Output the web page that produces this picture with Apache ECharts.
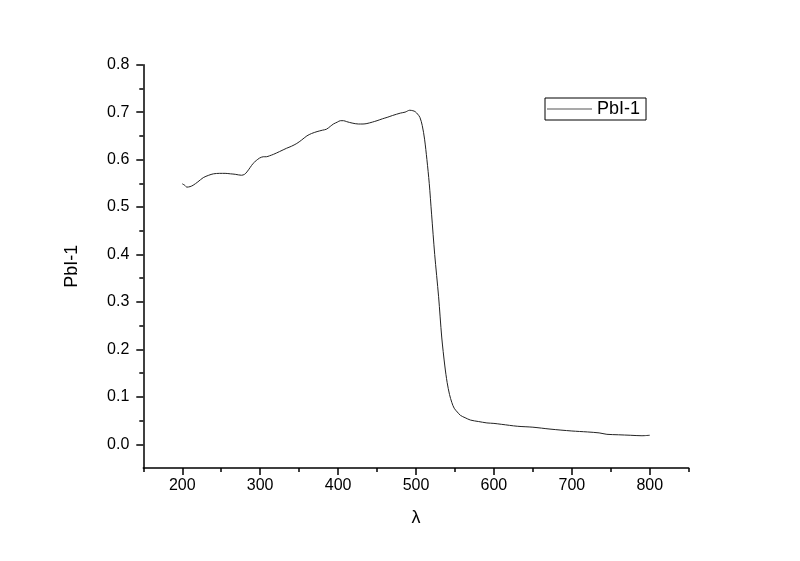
<!DOCTYPE html>
<html>
<head>
<meta charset="utf-8">
<script src="https://cdn.jsdelivr.net/npm/echarts@6/dist/echarts.min.js"></script>
<style>html,body{margin:0;padding:0;background:#fff;}#c{width:800px;height:561px;}</style>
</head>
<body>
<div id="c"></div>
<script>
const seriesName = 'PbI-1';
const wavelengths = [200,203,206,210,214,220,227,234,240,248,255,262,268,276,280,283,287,291,295,299,304,308,312,317,325,334,340,347,353,360,366,373,380,385,390,394,399,403,407,411,418,426,432,437,444,450,457,463,470,480,486,492,496,499,502,505,508,511,514,517,520,524,529,533,537,540,543,546,549,553,557,563,570,580,591,600,610,630,650,672,700,720,735,745,760,775,790,800];
const absorbance = [0.549,0.546,0.542,0.543,0.546,0.553,0.562,0.567,0.570,0.571,0.571,0.570,0.569,0.567,0.569,0.574,0.583,0.592,0.598,0.603,0.606,0.606,0.608,0.611,0.617,0.624,0.628,0.634,0.641,0.650,0.655,0.659,0.662,0.664,0.670,0.675,0.679,0.682,0.682,0.680,0.677,0.675,0.675,0.676,0.679,0.682,0.686,0.689,0.693,0.698,0.700,0.704,0.703,0.701,0.696,0.689,0.672,0.643,0.600,0.550,0.485,0.400,0.311,0.226,0.165,0.130,0.105,0.088,0.076,0.068,0.061,0.056,0.051,0.048,0.045,0.044,0.042,0.038,0.036,0.032,0.028,0.026,0.024,0.021,0.020,0.019,0.018,0.019];
const xMajorTicks = [200,300,400,500,600,700,800];
const yMajorTicks = [0,0.1,0.2,0.3,0.4,0.5,0.6,0.7,0.8];
const yMinorTicks = [0.05,0.15,0.25,0.35,0.45,0.55,0.65,0.75];

const FONT = "'Liberation Sans', Arial, sans-serif";
const chart = echarts.init(document.getElementById('c'), null, {renderer: 'canvas'});
const lineStyleAxis = {show: true, onZero: false, lineStyle: {color: '#000', width: 1.5}};
const option = {
  animation: false,
  backgroundColor: '#fff',
  grid: {left: 143.3, right: 111.3, top: 64.7, bottom: 93},
  legend: {
    show: true,
    left: 545, top: 98,
    padding: [2, 6, 2, 2],
    borderColor: '#000', borderWidth: 1,
    icon: 'rect', itemWidth: 45, itemHeight: 1,
    itemStyle: {color: '#555'},
    textStyle: {fontFamily: FONT, fontSize: 18, color: '#000'},
    data: [seriesName]
  },
  xAxis: [{
    type: 'value', min: 150, max: 850, interval: 50,
    name: 'λ', nameLocation: 'middle', nameGap: 41,
    nameTextStyle: {fontFamily: FONT, fontSize: 18, color: '#000'},
    axisLine: lineStyleAxis,
    axisTick: {show: true, inside: false, length: 7, lineStyle: {color: '#000', width: 1.5}, customValues: xMajorTicks},
    axisLabel: {show: true, margin: 10, fontFamily: FONT, fontSize: 16, color: '#000', customValues: xMajorTicks},
    splitLine: {show: false}
  }, {
    type: 'value', min: 150, max: 850, interval: 50, position: 'bottom',
    axisLine: {show: false, onZero: false},
    axisTick: {show: true, inside: false, length: 4, lineStyle: {color: '#000', width: 1.5}},
    axisLabel: {show: false},
    splitLine: {show: false}
  }],
  yAxis: [{
    type: 'value', min: -0.05, max: 0.8, interval: 0.05,
    name: seriesName, nameLocation: 'middle', nameGap: 62,
    nameTextStyle: {fontFamily: FONT, fontSize: 18, color: '#000'},
    axisLine: lineStyleAxis,
    axisTick: {show: true, inside: false, length: 7, lineStyle: {color: '#000', width: 1.5}, customValues: yMajorTicks},
    axisLabel: {show: true, margin: 14, fontFamily: FONT, fontSize: 16, color: '#000', customValues: yMajorTicks, formatter: v => v.toFixed(1)},
    splitLine: {show: false}
  }, {
    type: 'value', min: -0.05, max: 0.8, interval: 0.05, position: 'left',
    axisLine: {show: false, onZero: false},
    axisTick: {show: true, inside: false, length: 4, lineStyle: {color: '#000', width: 1.5}, customValues: yMinorTicks},
    axisLabel: {show: false},
    splitLine: {show: false}
  }],
  series: [{
    name: seriesName,
    type: 'line',
    xAxisIndex: 0, yAxisIndex: 0,
    data: wavelengths.map((w, i) => [w, absorbance[i]]),
    showSymbol: false,
    smooth: 0.3,
    lineStyle: {color: '#222', width: 1},
    itemStyle: {color: '#555'}
  }]
};
chart.setOption(option);
</script>
</body>
</html>
